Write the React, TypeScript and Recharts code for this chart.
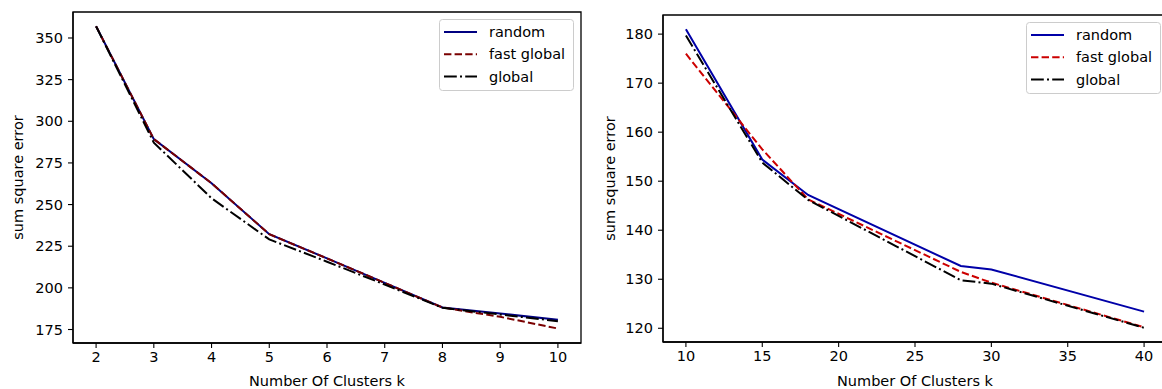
import React from 'react';
import { LineChart, Line, XAxis, YAxis, Legend, ReferenceArea } from 'recharts';

// ---- Left panel data ----
const leftK = [2, 3, 4, 5, 6, 7, 8, 9, 10];
const leftRandom = [357, 289.3, 262.8, 232.2, 217.7, 203, 188.2, 184.6, 180.8];
const leftFast = [357, 289.3, 262.8, 232.2, 217.7, 203, 188.2, 182.6, 175.6];
const leftGlobal = [357, 287.2, 253.8, 229.1, 215.7, 202, 188, 184, 180];
const leftTicksX = [2, 3, 4, 5, 6, 7, 8, 9, 10];
const leftTicksY = [175, 200, 225, 250, 275, 300, 325, 350];

// ---- Right panel data ----
const rightK = [10, 15, 18, 28, 30, 40];
const rightRandom = [181, 154.4, 147.2, 132.7, 132, 123.4];
const rightFast = [176, 156.5, 146.3, 131.5, 129.3, 120.2];
const rightGlobal = [179.7, 153.8, 146.2, 129.8, 129.1, 120.1];
const rightTicksX = [10, 15, 20, 25, 30, 35, 40];
const rightTicksY = [120, 130, 140, 150, 160, 170, 180];

const seriesNames = ['random', 'fast global', 'global'];
const seriesKeys = ['random', 'fast', 'global'];
const dashes = [undefined, '7.4 3.2', '12.8 3.2 2 3.2'];
const leftColors = ['#000080', '#7a0000', '#000000'];
const rightColors = ['#0000a8', '#cc0000', '#000000'];

const xLabel = 'Number Of Clusters k';
const yLabel = 'sum square error';

const leftData = leftK.map((k, i) => ({ k, random: leftRandom[i], fast: leftFast[i], global: leftGlobal[i] }));
const rightData = rightK.map((k, i) => ({ k, random: rightRandom[i], fast: rightFast[i], global: rightGlobal[i] }));

const FONT = 'DejaVu Sans';
const FS = 14.5;

function makeLegend(colors: string[]) {
  return () => (
    <svg width={136} height={73} style={{ display: 'block' }}>
      <rect x={0.5} y={0.5} width={134} height={71} rx={3} fill="rgba(255,255,255,0.85)" stroke="#cccccc" />
      {seriesNames.map((name, i) => {
        const y = 13 + 22.3 * i;
        return (
          <g key={name}>
            <line x1={5} x2={38} y1={y} y2={y} stroke={colors[i]} strokeWidth={2} strokeDasharray={dashes[i]} />
            <text x={50} y={y} dominantBaseline="central" fontSize={FS} fontFamily={FONT} fill="#000">
              {name}
            </text>
          </g>
        );
      })}
    </svg>
  );
}

function xLabelContent(props: any) {
  const vb = props.viewBox || {};
  return (
    <text x={vb.x + vb.width / 2} y={386} textAnchor="middle" fontSize={FS} fontFamily={FONT} fill="#000">
      {xLabel}
    </text>
  );
}

function makeYLabel(x: number, cy: number) {
  return () => (
    <text
      x={x}
      y={cy}
      textAnchor="middle"
      dominantBaseline="central"
      transform={`rotate(-90, ${x}, ${cy})`}
      fontSize={FS}
      fontFamily={FONT}
      fill="#000"
    >
      {yLabel}
    </text>
  );
}

interface PanelProps {
  data: any[];
  width: number;
  margin: { top: number; right: number; bottom: number; left: number };
  yWidth: number;
  xHeight: number;
  xDomain: [number, number];
  yDomain: [number, number];
  xTicks: number[];
  yTicks: number[];
  colors: string[];
  legendPos: { left: number; top: number };
  yLabelX: number;
}

function Panel(p: PanelProps) {
  const axisStyle = { stroke: '#000', strokeWidth: 1.3 };
  const tickStyle = { fill: '#000', fontSize: FS, fontFamily: FONT };
  const plotTop = p.margin.top;
  const plotBottom = 389 - p.margin.bottom - p.xHeight;
  return (
    <LineChart width={p.width} height={389} data={p.data} margin={p.margin} style={{ fontFamily: FONT }}>
      <XAxis
        dataKey="k"
        type="number"
        domain={p.xDomain}
        ticks={p.xTicks}
        allowDataOverflow
        height={p.xHeight}
        axisLine={axisStyle}
        tickLine={{ stroke: '#000', strokeWidth: 1.1 }}
        tickSize={5}
        tickMargin={4}
        tick={tickStyle}
        interval={0}
        label={{ content: xLabelContent }}
      />
      <YAxis
        type="number"
        domain={p.yDomain}
        ticks={p.yTicks}
        allowDataOverflow
        width={p.yWidth}
        axisLine={axisStyle}
        tickLine={{ stroke: '#000', strokeWidth: 1.1 }}
        tickSize={5}
        tickMargin={5}
        tick={tickStyle}
        interval={0}
        label={{ content: makeYLabel(p.yLabelX, (plotTop + plotBottom) / 2) }}
      />
      <ReferenceArea
        x1={p.xDomain[0]}
        x2={p.xDomain[1]}
        y1={p.yDomain[0]}
        y2={p.yDomain[1]}
        fill="none"
        fillOpacity={0}
        stroke="#000"
        strokeWidth={1.3}
        ifOverflow="visible"
      />
      {seriesKeys.map((key, i) => (
        <Line
          key={key}
          type="linear"
          dataKey={key}
          name={seriesNames[i]}
          stroke={p.colors[i]}
          strokeWidth={2}
          strokeDasharray={dashes[i]}
          dot={false}
          activeDot={false}
          isAnimationActive={false}
        />
      ))}
      <Legend
        layout="vertical"
        align="center"
        verticalAlign="middle"
        content={makeLegend(p.colors)}
        wrapperStyle={{ left: p.legendPos.left, top: p.legendPos.top, width: 136, height: 73 }}
      />
    </LineChart>
  );
}

export default function App() {
  return (
    <div
      style={{
        position: 'absolute',
        left: 0,
        top: 0,
        width: 1162,
        height: 389,
        overflow: 'hidden',
        background: '#fff',
      }}
    >
      <div style={{ position: 'absolute', left: 0, top: 0 }}>
        <Panel
          data={leftData}
          width={590}
          margin={{ top: 12, right: 9, bottom: 0, left: 0 }}
          yWidth={73}
          xHeight={46}
          xDomain={[1.6, 10.4]}
          yDomain={[166.9, 365.6]}
          xTicks={leftTicksX}
          yTicks={leftTicksY}
          colors={leftColors}
          legendPos={{ left: 438.5, top: 19 }}
          yLabelX={18}
        />
      </div>
      <div style={{ position: 'absolute', left: 580, top: 0 }}>
        <Panel
          data={rightData}
          width={600}
          margin={{ top: 15, right: 13, bottom: 0, left: 0 }}
          yWidth={83}
          xHeight={47}
          xDomain={[8.5, 41.5]}
          yDomain={[117.2, 183.9]}
          xTicks={rightTicksX}
          yTicks={rightTicksY}
          colors={rightColors}
          legendPos={{ left: 446, top: 21.5 }}
          yLabelX={29.5}
        />
      </div>
    </div>
  );
}
